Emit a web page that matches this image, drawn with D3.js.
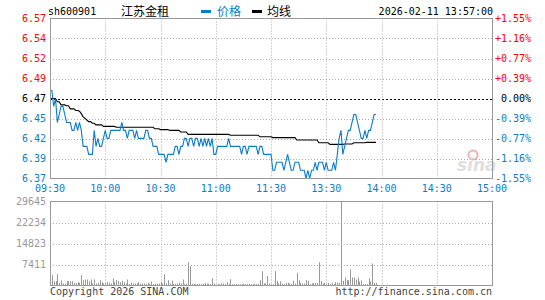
<!DOCTYPE html>
<html>
<head>
<meta charset="utf-8">
<script src="https://cdn.jsdelivr.net/npm/d3@7"></script>
<style>
  body { margin: 0; background: #fff; }
  svg text { font-family: "DejaVu Sans Mono", monospace; font-size: 10px; }
</style>
</head>
<body>
<svg id="chart" width="545" height="300"></svg>
<script>
// minute data, 09:30 -> 13:57
const prevClose = 6.47;

const prices = [
  6.48, 6.48, 6.46, 6.47, 6.44, 6.45, 6.46, 6.46, 6.45, 6.44,
  6.44, 6.44, 6.43, 6.43, 6.44, 6.43, 6.44, 6.43, 6.41, 6.41,
  6.41, 6.40, 6.40, 6.40, 6.43, 6.41, 6.42, 6.41, 6.41, 6.42,
  6.43, 6.42, 6.42, 6.43, 6.43, 6.43, 6.43, 6.43, 6.43, 6.44,
  6.43, 6.43, 6.42, 6.43, 6.43, 6.43, 6.42, 6.43, 6.42, 6.42,
  6.42, 6.42, 6.43, 6.43, 6.42, 6.42, 6.41, 6.41, 6.41, 6.40,
  6.40, 6.40, 6.40, 6.39, 6.40, 6.40, 6.40, 6.40, 6.41, 6.41,
  6.40, 6.41, 6.41, 6.42, 6.42, 6.41, 6.42, 6.42, 6.41, 6.42,
  6.42, 6.41, 6.42, 6.41, 6.42, 6.41, 6.42, 6.41, 6.42, 6.40,
  6.40, 6.41, 6.41, 6.41, 6.41, 6.41, 6.41, 6.42, 6.41, 6.41,
  6.41, 6.41, 6.41, 6.41, 6.40, 6.41, 6.41, 6.40, 6.41, 6.41,
  6.41, 6.41, 6.41, 6.40, 6.41, 6.41, 6.40, 6.40, 6.40, 6.40,
  6.40, 6.38, 6.38, 6.39, 6.39, 6.39, 6.39, 6.38, 6.39, 6.40,
  6.39, 6.38, 6.38, 6.39, 6.39, 6.39, 6.38, 6.38, 6.38, 6.37,
  6.38, 6.37, 6.38, 6.38, 6.39, 6.38, 6.39, 6.39, 6.39, 6.38,
  6.39, 6.38, 6.38, 6.38, 6.39, 6.38, 6.40, 6.42, 6.43, 6.40,
  6.41, 6.42, 6.43, 6.43, 6.44, 6.45, 6.45, 6.44, 6.43, 6.42,
  6.42, 6.43, 6.42, 6.43, 6.43, 6.44, 6.45, 6.45
];

const avgPrices = [
  6.470, 6.470, 6.470, 6.470, 6.466, 6.466, 6.462, 6.462, 6.462, 6.461,
  6.461, 6.457, 6.457, 6.457, 6.455, 6.455, 6.454, 6.451, 6.447, 6.445,
  6.443, 6.441, 6.441, 6.439, 6.439, 6.437, 6.437, 6.437, 6.437, 6.435,
  6.435, 6.435, 6.435, 6.435, 6.435, 6.435, 6.434, 6.434, 6.434, 6.434,
  6.434, 6.434, 6.434, 6.434, 6.434, 6.434, 6.434, 6.434, 6.434, 6.434,
  6.434, 6.434, 6.434, 6.434, 6.434, 6.434, 6.434, 6.432, 6.432, 6.432,
  6.431, 6.431, 6.431, 6.431, 6.431, 6.430, 6.430, 6.430, 6.430, 6.430,
  6.430, 6.428, 6.428, 6.428, 6.428, 6.425, 6.425, 6.425, 6.425, 6.425,
  6.425, 6.425, 6.425, 6.425, 6.425, 6.425, 6.425, 6.425, 6.425, 6.425,
  6.425, 6.425, 6.425, 6.425, 6.425, 6.425, 6.425, 6.425, 6.424, 6.424,
  6.424, 6.424, 6.424, 6.424, 6.424, 6.424, 6.424, 6.424, 6.424, 6.424,
  6.424, 6.424, 6.424, 6.424, 6.422, 6.422, 6.422, 6.422, 6.422, 6.422,
  6.422, 6.421, 6.421, 6.421, 6.421, 6.421, 6.421, 6.421, 6.421, 6.421,
  6.421, 6.421, 6.421, 6.421, 6.418, 6.418, 6.418, 6.418, 6.418, 6.418,
  6.418, 6.418, 6.418, 6.418, 6.418, 6.418, 6.4145, 6.4145, 6.4145, 6.4145,
  6.4145, 6.4145, 6.4125, 6.4125, 6.4125, 6.4125, 6.4125, 6.4125, 6.4125, 6.4125,
  6.413, 6.413, 6.413, 6.413, 6.413, 6.4145, 6.4145, 6.4145, 6.4145, 6.4145,
  6.4145, 6.4145, 6.415, 6.415, 6.415, 6.415, 6.415, 6.415
];

const volumes = [
  1880, 3650, 1530, 1530, 4000, 940, 1760, 710, 710, 1530,
  1530, 1530, 1530, 940, 940, 1180, 940, 3650, 1880, 2120,
  2120, 1530, 2120, 710, 2120, 710, 940, 1880, 1180, 710,
  940, 1290, 940, 710, 2470, 1180, 1880, 1650, 1180, 1650,
  1180, 710, 2120, 470, 1060, 710, 710, 710, 1180, 590,
  710, 710, 590, 940, 590, 1410, 470, 590, 590, 710,
  1290, 710, 4000, 710, 1880, 710, 1760, 590, 590, 710,
  940, 710, 2120, 470, 590, 8230, 6820, 590, 590, 470,
  590, 590, 470, 590, 820, 590, 590, 500, 2530, 710,
  350, 470, 470, 710, 710, 470, 1180, 470, 2230, 470,
  470, 470, 470, 470, 470, 590, 470, 470, 470, 470,
  470, 590, 470, 590, 1880, 5060, 710, 710, 3290, 710,
  470, 470, 5060, 1530, 710, 1530, 710, 470, 940, 940,
  710, 470, 1650, 710, 4470, 1880, 940, 710, 710, 1880,
  1650, 470, 710, 940, 940, 940, 8230, 1650, 710, 940,
  470, 940, 470, 940, 470, 1180, 940, 940, 29645, 1650,
  2820, 1880, 1880, 5650, 2820, 2820, 2120, 2820, 1410, 1880,
  470, 470, 470, 2470, 1410, 7760, 940, 940
];

// axis labels
const timeLabels = ["09:30", "10:00", "10:30", "11:00", "11:30", "13:30", "14:00", "14:30", "15:00"];
const priceLabels = ["6.57", "6.54", "6.52", "6.49", "6.47", "6.45", "6.42", "6.39", "6.37"];
const pctLabels = ["+1.55%", "+1.16%", "+0.77%", "+0.39%", "0.00%", "-0.39%", "-0.77%", "-1.16%", "-1.55%"];
const volLabels = ["29645", "22234", "14823", "7411"];
const volMax = 29645;
const pctRange = 1.55;

const BLUE = "#0a7dc9";
const RED = "#ff0000";
const GRID = "#aaaaaa";
const FRAME = "#999999";

const svg = d3.select("#chart");

const left = 50, right = 492;
const priceTop = 18.5, priceBottom = 178.5;
const volTop = 201.5, volBottom = 285.5;

// 240 trading minutes across the width
const x = d3.scaleLinear().domain([0, 240]).range([left, right]);
const pctY = d3.scaleLinear().domain([-pctRange, pctRange]).range([priceBottom, priceTop]);
const priceY = p => pctY((p / prevClose - 1) * 100);
const volY = d3.scaleLinear().domain([0, volMax]).range([volBottom, volTop]);

function labelColor(i) {
  if (i < 4) return RED;
  if (i === 4) return "#000";
  return BLUE;
}

// header
svg.append("text").attr("x", 48).attr("y", 15).attr("fill", "#000").text("sh600901");
svg.append("text").attr("x", 121).attr("y", 16)
  .style("font-family", "'Noto Sans CJK SC', sans-serif").style("font-size", "12px")
  .attr("fill", "#000").text("江苏金租");
svg.append("rect").attr("x", 201).attr("y", 10).attr("width", 10).attr("height", 3).attr("fill", BLUE);
svg.append("text").attr("x", 217).attr("y", 16)
  .style("font-family", "'Noto Sans CJK SC', sans-serif").style("font-size", "12px")
  .attr("fill", BLUE).text("价格");
svg.append("rect").attr("x", 252).attr("y", 10).attr("width", 10).attr("height", 3).attr("fill", "#000");
svg.append("text").attr("x", 267).attr("y", 16)
  .style("font-family", "'Noto Sans CJK SC', sans-serif").style("font-size", "12px")
  .attr("fill", "#000").text("均线");
svg.append("text").attr("x", 493).attr("y", 15).attr("text-anchor", "end")
  .attr("fill", "#000").text("2026-02-11 13:57:00");

// sina watermark
const mark = svg.append("g").attr("opacity", 0.8);
mark.append("circle").attr("cx", 473).attr("cy", 155).attr("r", 4.5)
  .attr("fill", "none").attr("stroke", "#f2a0a0").attr("stroke-width", 2);
mark.append("text").attr("x", 457).attr("y", 171)
  .style("font-family", "'DejaVu Sans', sans-serif").style("font-size", "17px")
  .style("font-style", "italic").style("font-weight", "bold")
  .attr("fill", "#d8d8d8").text("sina");

// price panel grid
const pctLevels = d3.range(9).map(i => pctRange - i * pctRange / 4);

svg.selectAll(".hgrid")
  .data(pctLevels.slice(1, -1))
  .enter()
  .append("line")
  .attr("class", "hgrid")
  .attr("x1", left).attr("x2", right)
  .attr("y1", d => Math.round(pctY(d)) + 0.5)
  .attr("y2", d => Math.round(pctY(d)) + 0.5)
  .attr("stroke", d => d === 0 ? "#000" : GRID)
  .attr("stroke-dasharray", d => d === 0 ? "2,2" : "1,2");

const vMinutes = [30, 60, 90, 120, 150, 180, 210];

function vGrid(top, bottom) {
  svg.append("g").selectAll("line")
    .data(vMinutes)
    .enter()
    .append("line")
    .attr("x1", d => Math.round(x(d)) + 0.5)
    .attr("x2", d => Math.round(x(d)) + 0.5)
    .attr("y1", top).attr("y2", bottom)
    .attr("stroke", GRID)
    .attr("stroke-dasharray", "1,2");
}
vGrid(priceTop, priceBottom);
vGrid(volTop, volBottom);

// price labels left and right
svg.selectAll(".plabel")
  .data(priceLabels)
  .enter()
  .append("text")
  .attr("class", "plabel")
  .attr("x", 46)
  .attr("y", (d, i) => pctY(pctLevels[i]) + 3.5)
  .attr("text-anchor", "end")
  .attr("fill", (d, i) => labelColor(i))
  .text(d => d);

svg.selectAll(".pctlabel")
  .data(pctLabels)
  .enter()
  .append("text")
  .attr("class", "pctlabel")
  .attr("x", 531)
  .attr("y", (d, i) => pctY(pctLevels[i]) + 3.5)
  .attr("text-anchor", "end")
  .attr("fill", (d, i) => labelColor(i))
  .text(d => d);

// time labels
svg.selectAll(".tlabel")
  .data(timeLabels)
  .enter()
  .append("text")
  .attr("class", "tlabel")
  .attr("x", (d, i) => x(i * 30))
  .attr("y", 192)
  .attr("text-anchor", "middle")
  .attr("fill", BLUE)
  .text(d => d);

// volume grid + labels
const volLevels = [volMax, volMax * 3 / 4, volMax / 2, volMax / 4];

svg.selectAll(".vgrid")
  .data(volLevels.slice(1))
  .enter()
  .append("line")
  .attr("class", "vgrid")
  .attr("x1", left).attr("x2", right)
  .attr("y1", d => Math.round(volY(d)) + 0.5)
  .attr("y2", d => Math.round(volY(d)) + 0.5)
  .attr("stroke", GRID)
  .attr("stroke-dasharray", "1,2");

svg.selectAll(".vlabel")
  .data(volLabels)
  .enter()
  .append("text")
  .attr("class", "vlabel")
  .attr("x", 46)
  .attr("y", (d, i) => volY(volLevels[i]) + 3.5)
  .attr("text-anchor", "end")
  .attr("fill", "#999")
  .text(d => d);

// volume bars
svg.selectAll(".bar")
  .data(volumes)
  .enter()
  .append("rect")
  .attr("class", "bar")
  .attr("x", (d, i) => Math.round(x(i)))
  .attr("width", 1)
  .attr("y", d => volY(d))
  .attr("height", d => volBottom - volY(d))
  .attr("fill", FRAME);

// lines
const priceLine = d3.line()
  .x((d, i) => x(i))
  .y(d => priceY(d));

svg.append("path")
  .datum(avgPrices)
  .attr("d", priceLine)
  .attr("fill", "none")
  .attr("stroke", "#000")
  .attr("stroke-width", 1.1);

svg.append("path")
  .datum(prices)
  .attr("d", priceLine)
  .attr("fill", "none")
  .attr("stroke", BLUE)
  .attr("stroke-width", 1.1);

// frames
svg.append("rect").attr("x", left + 0.5).attr("y", priceTop).attr("width", right - left).attr("height", priceBottom - priceTop)
  .attr("fill", "none").attr("stroke", FRAME);
svg.append("rect").attr("x", left + 0.5).attr("y", volTop).attr("width", right - left).attr("height", volBottom - volTop)
  .attr("fill", "none").attr("stroke", FRAME);

// footer
svg.append("text").attr("x", 50).attr("y", 295).attr("fill", "#444").text("Copyright 2026 SINA.COM");
svg.append("text").attr("x", 492).attr("y", 295).attr("text-anchor", "end").attr("fill", "#444").text("http://finance.sina.com.cn");
</script>
</body>
</html>
